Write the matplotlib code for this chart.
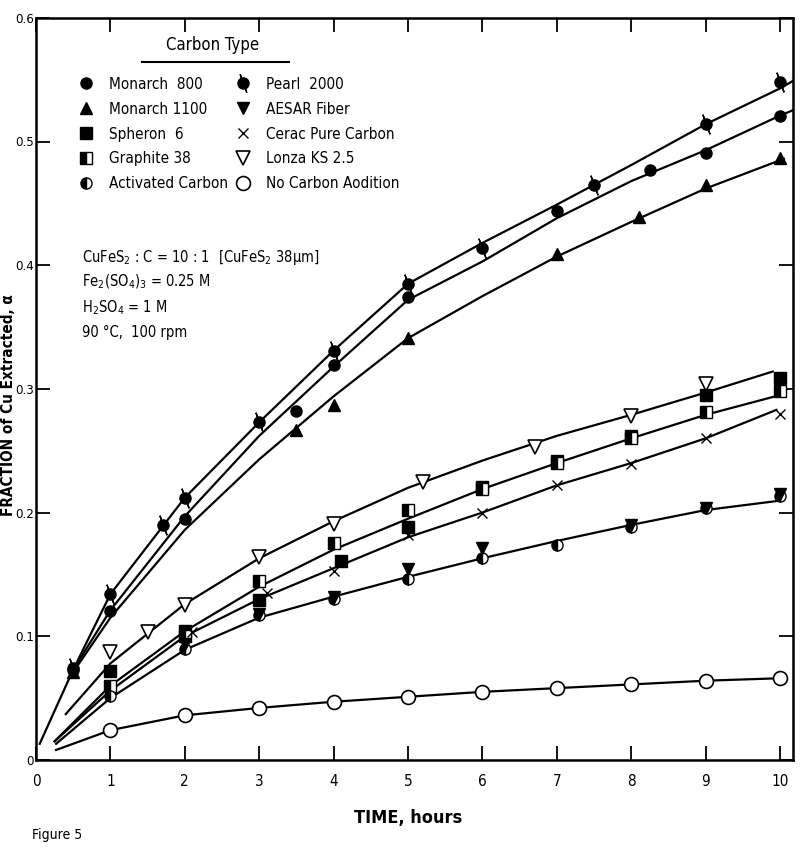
import matplotlib
matplotlib.use("Agg")
import matplotlib.pyplot as plt
from matplotlib import font_manager
from matplotlib.lines import Line2D
from matplotlib.legend_handler import HandlerTuple

# the scan uses a narrow typeface; take a condensed face when one is installed
condensed = [f for f in font_manager.fontManager.ttflist
             if "DejaVuSansCondensed" in f.fname.replace("-", "")]
if condensed:
    plt.rcParams["font.family"] = ["DejaVu Sans"]
    plt.rcParams["font.stretch"] = "condensed"
else:
    plt.rcParams["font.family"] = ["Liberation Sans", "DejaVu Sans"]

# --- measured points (time in hours, fraction of Cu extracted) ---
m800_t = [0.5, 1, 2, 3.5, 4, 5, 7, 8.25, 9, 10]
m800_v = [0.073, 0.12, 0.195, 0.282, 0.319, 0.374, 0.444, 0.477, 0.491, 0.521]

m1100_t = [0.5, 3.5, 4, 5, 7, 8.1, 9, 10]
m1100_v = [0.071, 0.267, 0.287, 0.341, 0.409, 0.439, 0.465, 0.487]

pearl_t = [0.5, 1, 1.7, 2, 3, 4, 5, 6, 7.5, 9, 10]
pearl_v = [0.074, 0.134, 0.19, 0.212, 0.273, 0.331, 0.385, 0.414, 0.465, 0.514, 0.548]

spheron_t = [1, 2, 3, 4.1, 5, 6, 7, 8, 9, 10]
spheron_v = [0.072, 0.104, 0.129, 0.161, 0.188, 0.221, 0.242, 0.262, 0.295, 0.309]

graphite_t = [1, 2, 3, 4, 5, 6, 7, 8, 9, 10]
graphite_v = [0.06, 0.1, 0.145, 0.175, 0.202, 0.219, 0.24, 0.26, 0.281, 0.298]

activated_t = [1, 2, 3, 4, 5, 6, 7, 8, 9, 10]
activated_v = [0.052, 0.09, 0.117, 0.13, 0.146, 0.163, 0.174, 0.188, 0.2035, 0.213]

aesar_t = [2, 3, 4, 5, 6, 8, 9, 10]
aesar_v = [0.094, 0.118, 0.132, 0.154, 0.171, 0.19, 0.204, 0.215]

cerac_t = [2.1, 3.1, 4, 5, 6, 7, 8, 9, 10]
cerac_v = [0.103, 0.135, 0.153, 0.1815, 0.2, 0.222, 0.239, 0.26, 0.28]

lonza_t = [1, 1.5, 2, 3, 4, 5.2, 6.7, 8, 9]
lonza_v = [0.0875, 0.103, 0.1255, 0.164, 0.191, 0.225, 0.253, 0.278, 0.304]

nocarbon_t = [1, 2, 3, 4, 5, 6, 7, 8, 9, 10]
nocarbon_v = [0.024, 0.036, 0.042, 0.047, 0.051, 0.055, 0.058, 0.061, 0.064, 0.066]

# --- hand-drawn fit curves ---
pearl_fit_t = [0.05, 0.5, 1, 2, 3, 4, 5, 6, 7, 8, 9, 10, 10.2]
pearl_fit_v = [0.013, 0.073, 0.134, 0.212, 0.273, 0.331, 0.385, 0.418, 0.449, 0.481, 0.514, 0.543, 0.55]

m800_fit_t = [0.5, 1, 2, 3, 4, 5, 6, 7, 8, 9, 10, 10.2]
m800_fit_v = [0.073, 0.121, 0.197, 0.262, 0.318, 0.372, 0.403, 0.438, 0.468, 0.493, 0.521, 0.526]

m1100_fit_t = [0.5, 1, 2, 3, 4, 5, 6, 7, 8, 9, 10.05]
m1100_fit_v = [0.071, 0.115, 0.186, 0.243, 0.294, 0.341, 0.375, 0.407, 0.435, 0.462, 0.486]

lonza_fit_t = [0.4, 1, 2, 3, 4, 5, 6, 7, 8, 9, 9.9]
lonza_fit_v = [0.037, 0.078, 0.126, 0.163, 0.193, 0.22, 0.242, 0.262, 0.279, 0.297, 0.314]

squares_fit_t = [0.25, 1, 2, 3, 4, 5, 6, 7, 8, 9, 10]
squares_fit_v = [0.015, 0.06, 0.104, 0.14, 0.17, 0.195, 0.219, 0.24, 0.26, 0.279, 0.295]

cerac_fit_t = [0.25, 1, 2, 3, 4, 5, 6, 7, 8, 9, 9.95]
cerac_fit_v = [0.015, 0.056, 0.1, 0.13, 0.155, 0.18, 0.2, 0.222, 0.24, 0.26, 0.283]

activated_fit_t = [0.27, 1, 2, 3, 4, 5, 6, 7, 8, 9, 10.05]
activated_fit_v = [0.013, 0.05, 0.089, 0.115, 0.132, 0.148, 0.163, 0.177, 0.19, 0.202, 0.21]

nocarbon_fit_t = [0.27, 1, 2, 3, 4, 5, 6, 7, 8, 9, 10]
nocarbon_fit_v = [0.008, 0.024, 0.036, 0.042, 0.047, 0.051, 0.055, 0.058, 0.061, 0.064, 0.066]

x_ticks = [0, 1, 2, 3, 4, 5, 6, 7, 8, 9, 10]
y_ticks = [0, 0.1, 0.2, 0.3, 0.4, 0.5, 0.6]
y_tick_labels = ["0", "0.1", "0.2", "0.3", "0.4", "0.5", "0.6"]

legend_col1 = ["Monarch  800", "Monarch 1100", "Spheron  6", "Graphite 38",
               "Activated Carbon"]
legend_col2 = ["Pearl  2000", "AESAR Fiber", "Cerac Pure Carbon", "Lonza KS 2.5",
               "No Carbon Aodition"]

conditions = [
    "CuFeS$_2$ : C = 10 : 1",
    "Fe$_2$(SO$_4$)$_3$ = 0.25 M",
    "H$_2$SO$_4$ = 1 M",
    "90 °C,  100 rpm",
]

fig = plt.figure(figsize=(8, 8.49), dpi=100)
ax = fig.add_axes([0.045, 0.105, 0.946, 0.874])

K = "black"
lw = 1.6
for ft, fv in [(pearl_fit_t, pearl_fit_v), (m800_fit_t, m800_fit_v),
               (m1100_fit_t, m1100_fit_v), (lonza_fit_t, lonza_fit_v),
               (squares_fit_t, squares_fit_v), (cerac_fit_t, cerac_fit_v),
               (activated_fit_t, activated_fit_v), (nocarbon_fit_t, nocarbon_fit_v)]:
    ax.plot(ft, fv, color=K, lw=lw, zorder=2)

ms = 8
ax.plot(m800_t, m800_v, "o", color=K, ms=ms, zorder=3)
ax.plot(m1100_t, m1100_v, "^", color=K, ms=ms, zorder=3)
ax.plot(pearl_t, pearl_v, "o", color=K, ms=ms, zorder=3)
ax.plot(pearl_t, pearl_v, ls="none", marker=(2, 2, 20), color=K, ms=15, mew=1, zorder=3)
ax.plot(spheron_t, spheron_v, "s", color=K, ms=ms, zorder=3)
ax.plot(graphite_t, graphite_v, "s", color=K, mfc=K, mfcalt="white",
        fillstyle="left", ms=ms, zorder=3)
ax.plot(activated_t, activated_v, "o", color=K, mfc=K, mfcalt="white",
        fillstyle="left", ms=ms, zorder=3)
ax.plot(aesar_t, aesar_v, "v", color=K, ms=ms, zorder=3)
ax.plot(cerac_t, cerac_v, "x", color=K, ms=7, mew=1, zorder=3)
ax.plot(lonza_t, lonza_v, "v", color=K, mfc="white", ms=10, mew=1.2, zorder=3)
ax.plot(nocarbon_t, nocarbon_v, "o", color=K, mfc="white", ms=10, mew=1.2, zorder=3)

ax.set_xlim(0, 10.17)
ax.set_ylim(0, 0.6)
ax.set_xticks(x_ticks)
ax.set_yticks(y_ticks)
ax.set_yticklabels(y_tick_labels)
ax.tick_params(direction="in", length=10, width=1.3, top=True, right=True)
ax.tick_params(axis="x", pad=10, labelsize=11)
ax.tick_params(axis="y", pad=1.5, labelsize=9.5)
for s in ax.spines.values():
    s.set_linewidth(1.8)

# legend: two columns placed separately, title drawn as text with a rule under it
handles1 = [
    Line2D([], [], ls="none", marker="o", color=K, ms=8),
    Line2D([], [], ls="none", marker="^", color=K, ms=8),
    Line2D([], [], ls="none", marker="s", color=K, ms=8),
    Line2D([], [], ls="none", marker="s", color=K, mfcalt="white", fillstyle="left", ms=8),
    Line2D([], [], ls="none", marker="o", color=K, mfcalt="white", fillstyle="left", ms=8),
]
handles2 = [
    (Line2D([], [], ls="none", marker="o", color=K, ms=8),
     Line2D([], [], ls="none", marker=(2, 2, 20), color=K, ms=14, mew=1)),
    Line2D([], [], ls="none", marker="v", color=K, ms=8),
    Line2D([], [], ls="none", marker="x", color=K, ms=7, mew=1),
    Line2D([], [], ls="none", marker="v", color=K, mfc="white", ms=10, mew=1.2),
    Line2D([], [], ls="none", marker="o", color=K, mfc="white", ms=10, mew=1.2),
]
leg_kw = dict(loc="upper left", frameon=False, fontsize=11, borderpad=0,
              handlelength=1.2, handletextpad=0.9, labelspacing=0.65,
              handler_map={tuple: HandlerTuple(ndivide=1)})
leg1 = ax.legend(handles1, legend_col1, bbox_to_anchor=(0.044, 0.931), **leg_kw)
ax.add_artist(leg1)
ax.legend(handles2, legend_col2, bbox_to_anchor=(0.251, 0.931), **leg_kw)

fig.text(0.266, 0.947, "Carbon Type", ha="center", va="center", fontsize=12)
fig.add_artist(Line2D([0.178, 0.361], [0.927, 0.927], transform=fig.transFigure,
                      color=K, lw=1.5))

for i, line in enumerate(conditions):
    fig.text(0.103, 0.697 - i * 0.0295, line, fontsize=10.5, va="center")
fig.text(0.272, 0.697, "[CuFeS$_2$ 38µm]", fontsize=10.5, va="center")

fig.text(0.0105, 0.523, "FRACTION of Cu Extracted, α", rotation=90, ha="center",
         va="center", fontsize=11, fontweight="bold")
fig.text(0.51, 0.036, "TIME, hours", ha="center", va="center", fontsize=13,
         fontweight="bold")
fig.text(0.04, 0.016, "Figure 5", fontsize=10, va="center")

fig.savefig("out.png", dpi=100)
